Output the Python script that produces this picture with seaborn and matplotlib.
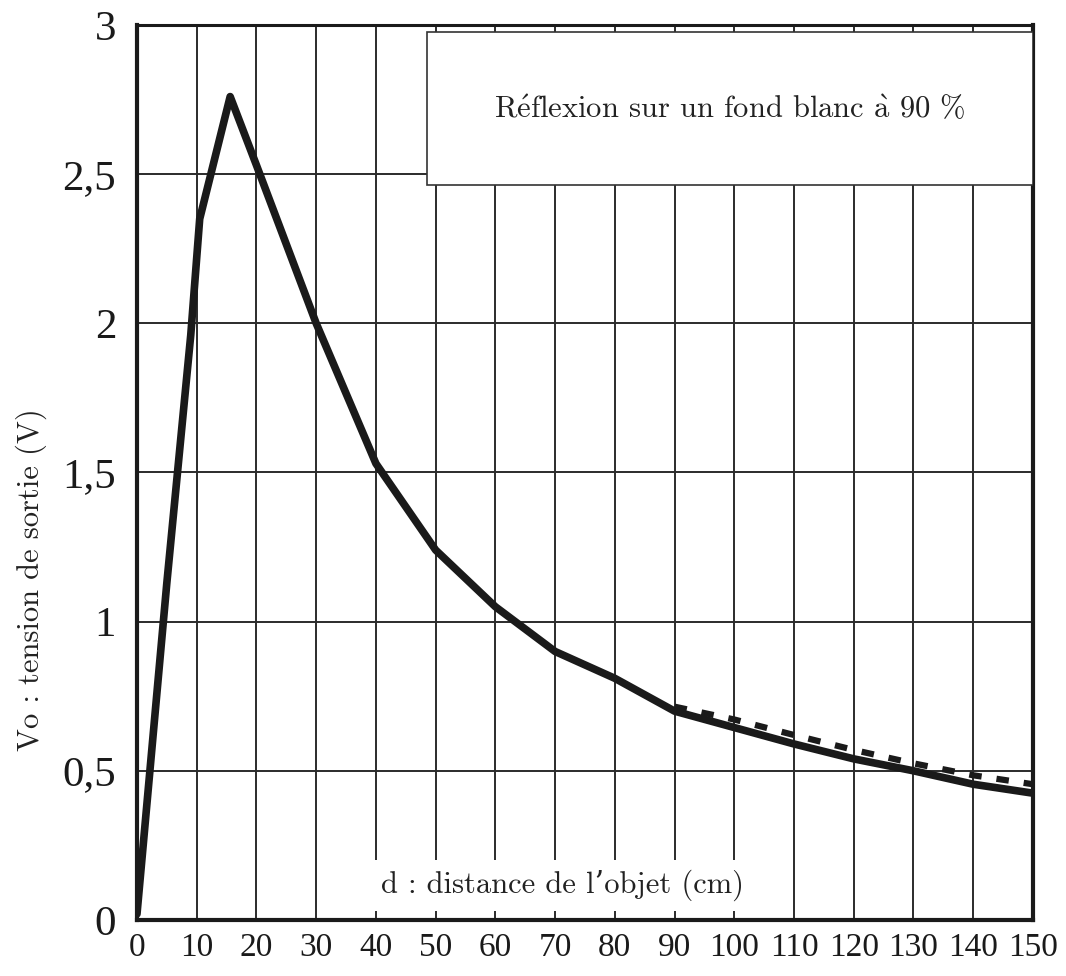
import pandas as pd
import matplotlib.pyplot as plt
import seaborn as sns
from matplotlib.patches import Rectangle

# Valeurs
distance = [0, 5, 9, 10.5, 15.6, 20, 30, 40, 50, 60, 70, 80, 90, 100, 110, 120, 130, 140, 150]
tension = [0.02, 1.13, 1.96, 2.35, 2.76, 2.53, 2.0, 1.53, 1.24, 1.05, 0.9, 0.81, 0.70, 0.645, 0.59, 0.54, 0.50, 0.455, 0.425]

# courbe pointillée (fin de la mesure)
distance_pt = [90, 100, 110, 120, 130, 140, 150]
tension_pt = [0.715, 0.672, 0.62, 0.57, 0.525, 0.485, 0.455]

x_ticks = list(range(0, 151, 10))
y_ticks = [0, 0.5, 1, 1.5, 2, 2.5, 3]
y_labels = ["0", "0,5", "1", "1,5", "2", "2,5", "3"]

df = pd.DataFrame({"d": distance, "Vo": tension})
df_pt = pd.DataFrame({"d": distance_pt, "Vo": tension_pt})

sns.set_theme(style="white")
plt.rcParams["mathtext.fontset"] = "cm"
cm_font = ["cmr10", "DejaVu Serif"]

fig = plt.figure(figsize=(10.66, 9.76), dpi=100)
ax = fig.add_axes([0.1285, 0.0574, 0.8405, 0.9170])

sns.lineplot(data=df_pt, x="d", y="Vo", color="#1a1a1a", linewidth=4.5, ax=ax,
             dashes=False, zorder=2)
ax.lines[-1].set_dashes([2.0, 2.4])
sns.lineplot(data=df, x="d", y="Vo", color="#1a1a1a", linewidth=5.5, ax=ax, zorder=3)

ax.set_xlim(0, 150)
ax.set_ylim(0, 3)
ax.set_xticks(x_ticks)
ax.set_xticklabels([str(v) for v in x_ticks], family="Liberation Serif", fontsize=24)
ax.set_yticks(y_ticks)
ax.set_yticklabels(y_labels, family="Liberation Serif", fontsize=31)
ax.tick_params(axis="x", length=0, pad=9, colors="#1a1a1a")
ax.tick_params(axis="y", length=0, pad=15, colors="#1a1a1a")

ax.grid(True, color="#2b2b2b", linewidth=1.4)
ax.set_axisbelow(True)
for side, lw in [("left", 3), ("bottom", 3), ("top", 2.2), ("right", 3)]:
    ax.spines[side].set_visible(True)
    ax.spines[side].set_color("#1a1a1a")
    ax.spines[side].set_linewidth(lw)

ax.set_ylabel("Vo : tension de sortie (V)", family=cm_font, fontsize=22, color="#222222")
ax.yaxis.set_label_coords(-0.100, 0.38)

ax.set_xlabel("d : distance de l’objet (cm)", family=cm_font, fontsize=22, color="#222222",
              bbox=dict(facecolor="white", edgecolor="none", pad=7))
ax.xaxis.label.set_va("center")
ax.xaxis.set_label_coords(0.475, 0.039)

# cadre de la légende en haut à droite
ax.add_patch(Rectangle((48.6, 2.465), 101.4, 0.51, facecolor="white",
                       edgecolor="#333333", linewidth=1.2, zorder=4))
ax.text(99.3, 2.716, r"R$\mathrm{\acute{e}}$flexion sur un fond blanc $\mathrm{\grave{a}}$ 90 %",
        family=cm_font, fontsize=22, color="#222222", ha="center", va="center", zorder=5)

fig.savefig("out.png", dpi=100)
